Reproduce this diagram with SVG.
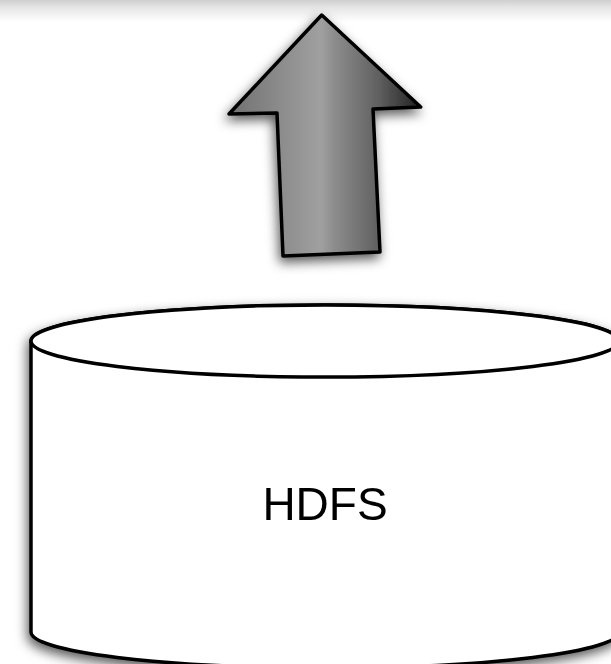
<svg xmlns="http://www.w3.org/2000/svg" width="611" height="664" viewBox="0 0 611 664">
  <defs>
    <linearGradient id="arrowFill" x1="229" y1="0" x2="421" y2="0" gradientUnits="userSpaceOnUse">
      <stop offset="0" stop-color="#707070"/>
      <stop offset="0.25" stop-color="#8a8a8a"/>
      <stop offset="0.48" stop-color="#a0a0a0"/>
      <stop offset="0.55" stop-color="#8c8c8c"/>
      <stop offset="0.78" stop-color="#606060"/>
      <stop offset="1" stop-color="#1e1e1e"/>
    </linearGradient>
    <linearGradient id="topBand" x1="0" y1="0" x2="0" y2="1">
      <stop offset="0" stop-color="#cfcfcf"/>
      <stop offset="0.35" stop-color="#e6e6e6"/>
      <stop offset="1" stop-color="#ffffff"/>
    </linearGradient>
    <filter id="shadow" x="-20%" y="-20%" width="140%" height="140%">
      <feDropShadow dx="-2" dy="5" stdDeviation="6" flood-color="#000" flood-opacity="0.65"/>
    </filter>
  </defs>
  <style>
    .outline { stroke: #000; stroke-width: 3.5; stroke-linejoin: round; }
    .label { font-family: "Liberation Sans", Arial, sans-serif; font-size: 46px; fill: #000; text-anchor: middle; }
  </style>

  <rect x="0" y="0" width="611" height="664" fill="#ffffff"/>
  <!-- shadow cast from the element just above the visible area -->
  <rect x="0" y="0" width="611" height="22" fill="url(#topBand)"/>

  <g id="upload-arrow" filter="url(#shadow)">
    <path d="M321.7,15 L420.7,107 L373,109 L380,252 L283,256 L277,113 L229,114 Z"
          fill="url(#arrowFill)" class="outline" stroke="#1a1a1a" stroke-width="4"/>
  </g>

  <g id="hdfs" filter="url(#shadow)">
    <path d="M31,341 L31,632 A294,36 0 0 0 619,632 L619,341 A294,36 0 0 0 31,341 Z"
          fill="#ffffff" class="outline"/>
    <ellipse cx="325" cy="341" rx="294" ry="36" fill="#ffffff" class="outline"/>
    <text class="label" x="325" y="520">HDFS</text>
  </g>
</svg>
